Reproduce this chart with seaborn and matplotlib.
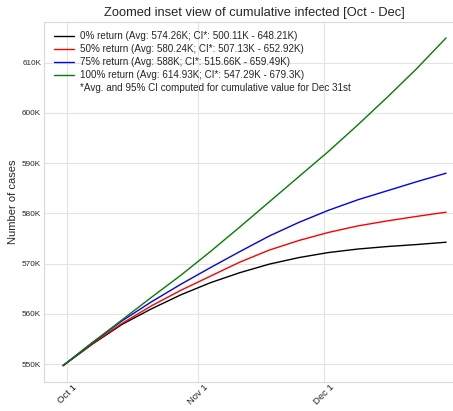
import matplotlib
matplotlib.use("Agg")
import matplotlib.pyplot as plt
import matplotlib.dates as mdates
from matplotlib.lines import Line2D
from matplotlib.ticker import FuncFormatter
import pandas as pd
import seaborn as sns

# Dates of the read-off points (weekly, end of December last)
dates = ["2020-09-30", "2020-10-07", "2020-10-14", "2020-10-21", "2020-10-28",
         "2020-11-04", "2020-11-11", "2020-11-18", "2020-11-25", "2020-12-02",
         "2020-12-09", "2020-12-16", "2020-12-23", "2020-12-30"]

# Cumulative infected, in thousands
return_0 = [549.7, 554.0, 557.9, 561.0, 563.8, 566.2, 568.2, 569.9, 571.2,
            572.2, 572.9, 573.4, 573.8, 574.26]
return_50 = [549.7, 554.1, 558.1, 561.6, 564.7, 567.5, 570.3, 572.7, 574.6,
             576.2, 577.5, 578.5, 579.4, 580.24]
return_75 = [549.7, 554.3, 558.6, 562.4, 565.9, 569.2, 572.4, 575.5, 578.2,
             580.6, 582.7, 584.5, 586.3, 588.0]
return_100 = [549.7, 554.3, 558.8, 563.3, 567.7, 572.4, 577.3, 582.3, 587.3,
              592.3, 597.6, 603.1, 608.8, 614.93]

labels = [
    "0% return (Avg: 574.26K; CI*: 500.11K - 648.21K)",
    "50% return (Avg: 580.24K; CI*: 507.13K - 652.92K)",
    "75% return (Avg: 588K; CI*: 515.66K - 659.49K)",
    "100% return (Avg: 614.93K; CI*: 547.29K - 679.3K)",
]
note = "*Avg. and 95% CI computed for cumulative value for Dec 31st"
colors = ["black", "red", "blue", "green"]

frames = []
for label, values in zip(labels, [return_0, return_50, return_75, return_100]):
    frames.append(pd.DataFrame({
        "date": pd.to_datetime(dates),
        "cases": [v * 1000 for v in values],
        "scenario": label,
    }))
df = pd.concat(frames, ignore_index=True)

sns.set_style("whitegrid", {"grid.color": ".89", "axes.edgecolor": ".85"})
plt.rcParams["font.family"] = ["Liberation Sans", "DejaVu Sans"]

fig = plt.figure(figsize=(4.53, 4.11), dpi=100)
ax = fig.add_axes([0.097, 0.0706, 0.93, 0.877])

sns.lineplot(data=df, x="date", y="cases", hue="scenario",
             palette=dict(zip(labels, colors)), linewidth=1.0, ax=ax,
             legend=False)

ax.set_title("Zoomed inset view of cumulative infected [Oct - Dec]",
             fontsize=9.3, pad=4)
ax.set_xlabel("")
ax.set_ylabel("Number of cases", fontsize=8, labelpad=3)

ax.xaxis.set_major_locator(mdates.MonthLocator(bymonth=[10, 11, 12]))
ax.xaxis.set_major_formatter(mdates.DateFormatter("%b %-d"))
ax.yaxis.set_major_formatter(FuncFormatter(lambda v, p: f"{int(round(v / 1000))}K"))
ax.tick_params(axis="x", labelsize=6.8, rotation=45, pad=0.5, length=0)
ax.tick_params(axis="y", labelsize=5.9, pad=2, length=0)

handles = [Line2D([], [], color=c, lw=1.0) for c in colors]
handles.append(Line2D([], [], color="none"))
ax.legend(handles, labels + [note], loc="upper left", fontsize=7.1,
          frameon=False, handlelength=2.0, handletextpad=0.7,
          labelspacing=0.3, borderaxespad=0.6)

fig.savefig("out.png", dpi=100)
